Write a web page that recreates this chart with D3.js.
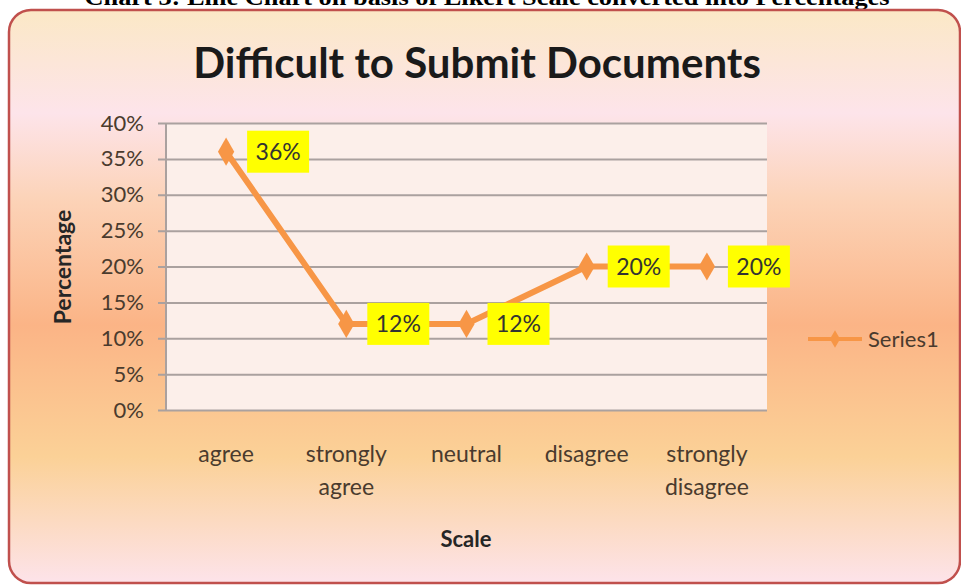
<!DOCTYPE html>
<meta charset="utf-8">
<title>Difficult to Submit Documents</title>
<style>
body { margin: 0; background: #fff; }
svg { font-family: Lato, "Open Sans", sans-serif; }
</style>
<body>
<script src="https://d3js.org/d3.v7.min.js"></script>
<script>

var categories = ["agree", "strongly agree", "neutral", "disagree", "strongly disagree"];
var values = [0.36, 0.12, 0.12, 0.20, 0.20];
var yTicks = [0, 0.05, 0.10, 0.15, 0.20, 0.25, 0.30, 0.35, 0.40];
var seriesName = "Series1";

var width = 961, height = 585;
var plot = {left: 166, right: 767, top: 123, bottom: 410};
var orange = "#f79646";
var brown = "#4a3b2e";

var svg = d3.select("body").append("svg")
    .attr("width", width)
    .attr("height", height);

var defs = svg.append("defs");
var bg = defs.append("linearGradient")
    .attr("id", "bg")
    .attr("x1", 0).attr("y1", 0).attr("x2", 0).attr("y2", 1);
[[0, "#fbe8c6"], [0.18, "#fde4ea"], [0.33, "#fcd3b8"], [0.55, "#fbb486"], [0.78, "#fbd197"], [1, "#fde3ea"]]
  .forEach(function(s) { bg.append("stop").attr("offset", s[0]).attr("stop-color", s[1]); });

// caption above the frame, mostly cut off
svg.append("text")
    .attr("x", 487)
    .attr("y", 5)
    .attr("text-anchor", "middle")
    .attr("textLength", 805)
    .attr("lengthAdjust", "spacingAndGlyphs")
    .style("font-family", "'Liberation Serif', 'Times New Roman', serif")
    .style("font-weight", "bold")
    .style("font-size", "24px")
    .text("Chart 3: Line Chart on basis of Likert Scale converted into Percentages");

svg.append("rect")
    .attr("x", 9).attr("y", 10)
    .attr("width", 951).attr("height", 573)
    .attr("rx", 22).attr("ry", 22)
    .attr("fill", "url(#bg)")
    .attr("stroke", "#c0504d")
    .attr("stroke-width", 2.5);

svg.append("text")
    .attr("x", 477)
    .attr("y", 78)
    .attr("text-anchor", "middle")
    .style("font-weight", "bold")
    .style("font-size", "42px")
    .attr("fill", "#1a1a1a")
    .text("Difficult to Submit Documents");

var x = d3.scaleBand()
    .domain(categories)
    .range([plot.left, plot.right]);

var y = d3.scaleLinear()
    .domain([0, 0.4])
    .range([plot.bottom, plot.top]);

svg.append("rect")
    .attr("x", plot.left).attr("y", plot.top)
    .attr("width", plot.right - plot.left)
    .attr("height", plot.bottom - plot.top)
    .attr("fill", "#fcefea");

var yAxis = d3.axisLeft(y)
    .tickValues(yTicks)
    .tickFormat(d3.format(".0%"))
    .tickSize(-(plot.right - plot.left))
    .tickPadding(22);

var gy = svg.append("g")
    .attr("transform", "translate(" + plot.left + ",0)")
    .call(yAxis);
gy.select(".domain").remove();
gy.selectAll(".tick line")
    .attr("x1", -8)
    .attr("stroke", "#aaa19f")
    .attr("stroke-width", 2);
gy.selectAll(".tick text")
    .attr("fill", brown)
    .style("font-size", "22px")
    .style("font-family", "Lato, sans-serif");

svg.append("line")
    .attr("x1", plot.left).attr("x2", plot.left)
    .attr("y1", plot.top).attr("y2", plot.bottom + 1)
    .attr("stroke", "#aaa19f").attr("stroke-width", 2);

// category labels
var xl = svg.append("g").selectAll("text")
    .data(categories)
  .enter().append("text")
    .attr("x", function(d) { return x(d) + x.bandwidth() / 2; })
    .attr("y", 462)
    .attr("text-anchor", "middle")
    .attr("fill", brown)
    .style("font-size", "23px");
xl.each(function(d) {
  var words = d.split(" ");
  var t = d3.select(this);
  words.forEach(function(w, i) {
    t.append("tspan")
        .attr("x", t.attr("x"))
        .attr("dy", i ? 33 : 0)
        .text(w);
  });
});

svg.append("text")
    .attr("x", 466).attr("y", 547)
    .attr("text-anchor", "middle")
    .style("font-weight", "bold")
    .style("font-size", "22px")
    .attr("fill", "#262626")
    .text("Scale");

svg.append("text")
    .attr("transform", "translate(71,267) rotate(-90)")
    .attr("text-anchor", "middle")
    .style("font-weight", "bold")
    .style("font-size", "23px")
    .attr("fill", "#262626")
    .text("Percentage");

var line = d3.line()
    .x(function(d, i) { return x(categories[i]) + x.bandwidth() / 2; })
    .y(function(d) { return y(d); });

svg.append("path")
    .datum(values)
    .attr("d", line)
    .attr("fill", "none")
    .attr("stroke", orange)
    .attr("stroke-width", 6)
    .attr("stroke-linejoin", "round");

var diamond = d3.symbol().type(d3.symbolDiamond).size(230);

svg.append("g").selectAll("path")
    .data(values)
  .enter().append("path")
    .attr("transform", function(d, i) {
      return "translate(" + (x(categories[i]) + x.bandwidth() / 2) + "," + y(d) + ")";
    })
    .attr("d", diamond)
    .attr("fill", orange);

var labels = svg.append("g").selectAll("g")
    .data(values)
  .enter().append("g")
    .attr("transform", function(d, i) {
      return "translate(" + (x(categories[i]) + x.bandwidth() / 2 + 52) + "," + y(d) + ")";
    });
labels.append("rect")
    .attr("x", -31).attr("y", -21)
    .attr("width", 62).attr("height", 42)
    .attr("fill", "#ffff00");
labels.append("text")
    .attr("text-anchor", "middle")
    .attr("dy", "0.35em")
    .attr("fill", "#333")
    .style("font-size", "23px")
    .text(function(d) { return d3.format(".0%")(d); });

// legend
var lg = svg.append("g").attr("transform", "translate(808,339)");
lg.append("line")
    .attr("x1", 0).attr("x2", 54)
    .attr("stroke", orange).attr("stroke-width", 4);
lg.append("path")
    .attr("transform", "translate(27,0)")
    .attr("d", d3.symbol().type(d3.symbolDiamond).size(90))
    .attr("fill", orange);
lg.append("text")
    .attr("x", 60).attr("dy", "0.35em")
    .attr("fill", brown)
    .style("font-size", "22px")
    .text(seriesName);

</script>
